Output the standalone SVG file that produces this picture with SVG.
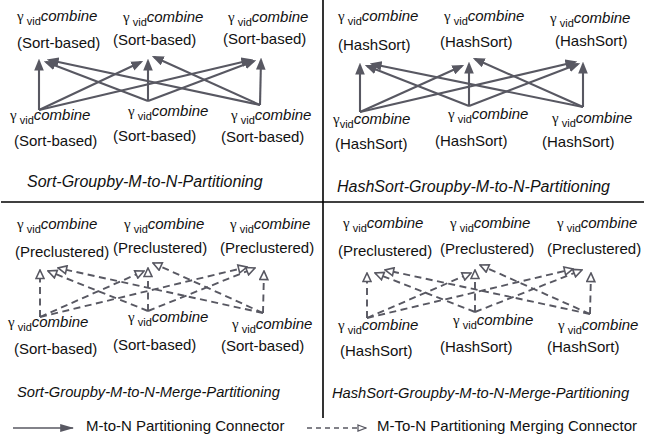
<svg xmlns="http://www.w3.org/2000/svg" width="657" height="437" viewBox="0 0 657 437">
<style>
text{font-family:"Liberation Sans",Arial,sans-serif;font-size:15px;fill:#111}
.g{font-family:"Liberation Serif","Times New Roman",serif;font-size:15px}
.s{font-size:11px}
.c{font-style:italic}
.t{font-style:italic;font-size:16px}
.t2{font-style:italic;font-size:14.7px}
.sol{stroke:#585862;stroke-width:2.1;fill:none;marker-end:url(#ah)}
.dsh{stroke:#585862;stroke-width:1.9;fill:none;stroke-dasharray:7 4.5;marker-end:url(#oh)}
.div{stroke:#000;stroke-width:1.6;fill:none}
</style>
<defs>
<marker id="ah" markerUnits="userSpaceOnUse" markerWidth="12" markerHeight="10" viewBox="0 0 10 8" refX="8" refY="4" orient="auto">
<path d="M0,0 L10,4 L0,8 z" fill="#585862"/>
</marker>
<marker id="oh" markerUnits="userSpaceOnUse" markerWidth="11" markerHeight="10" viewBox="0 0 11 10" refX="10" refY="5" orient="auto">
<path d="M1.5,1 L10,5 L1.5,9 z" fill="#fff" stroke="#585862" stroke-width="1.6"/>
</marker>
<marker id="ohl" markerUnits="userSpaceOnUse" markerWidth="10" markerHeight="8" viewBox="0 0 10 8" refX="9" refY="4" orient="auto">
<path d="M1,1 L9,4 L1,7 z" fill="#fff" stroke="#585862" stroke-width="1.3"/>
</marker>
<marker id="ahl" markerUnits="userSpaceOnUse" markerWidth="14" markerHeight="10" viewBox="0 0 12 8" refX="11" refY="4" orient="auto">
<path d="M0,0.5 L12,4 L0,7.5 z" fill="#585862"/>
</marker>
</defs>

<g id="dividers">
<line class="div" x1="323" y1="0" x2="323" y2="418"/>
<line class="div" x1="1" y1="202" x2="644" y2="202"/>
</g>

<g id="connectors">
<!-- top-left -->
<line class="sol" x1="39" y1="110" x2="39" y2="61"/>
<line class="sol" x1="39" y1="110" x2="141" y2="62"/>
<line class="sol" x1="39" y1="110" x2="251" y2="60"/>
<line class="sol" x1="148" y1="101" x2="148" y2="61"/>
<line class="sol" x1="148" y1="101" x2="46" y2="62"/>
<line class="sol" x1="148" y1="101" x2="254" y2="61"/>
<line class="sol" x1="260" y1="105" x2="261" y2="60"/>
<line class="sol" x1="260" y1="105" x2="49" y2="60"/>
<line class="sol" x1="260" y1="105" x2="154" y2="57"/>
<!-- top-right -->
<line class="sol" x1="360" y1="112" x2="360" y2="65"/>
<line class="sol" x1="360" y1="112" x2="462" y2="66"/>
<line class="sol" x1="360" y1="112" x2="575" y2="62"/>
<line class="sol" x1="469" y1="106" x2="469" y2="64"/>
<line class="sol" x1="469" y1="106" x2="367" y2="66"/>
<line class="sol" x1="469" y1="106" x2="578" y2="64"/>
<line class="sol" x1="583" y1="107" x2="583" y2="64"/>
<line class="sol" x1="583" y1="107" x2="372" y2="64"/>
<line class="sol" x1="583" y1="107" x2="475" y2="59"/>
<!-- bottom-left -->
<line class="dsh" x1="40" y1="317" x2="40" y2="270"/>
<line class="dsh" x1="40" y1="317" x2="144" y2="271"/>
<line class="dsh" x1="40" y1="317" x2="247" y2="267"/>
<line class="dsh" x1="148" y1="311" x2="148" y2="268"/>
<line class="dsh" x1="148" y1="311" x2="48" y2="271"/>
<line class="dsh" x1="148" y1="311" x2="255" y2="268"/>
<line class="dsh" x1="263" y1="313" x2="264" y2="271"/>
<line class="dsh" x1="263" y1="313" x2="58" y2="268"/>
<line class="dsh" x1="263" y1="313" x2="153" y2="263"/>
<!-- bottom-right -->
<line class="dsh" x1="367" y1="318" x2="367" y2="273"/>
<line class="dsh" x1="367" y1="318" x2="471" y2="273"/>
<line class="dsh" x1="367" y1="318" x2="573" y2="269"/>
<line class="dsh" x1="475" y1="312" x2="475" y2="270"/>
<line class="dsh" x1="475" y1="312" x2="375" y2="273"/>
<line class="dsh" x1="475" y1="312" x2="582" y2="270"/>
<line class="dsh" x1="590" y1="314" x2="591" y2="273"/>
<line class="dsh" x1="590" y1="314" x2="385" y2="270"/>
<line class="dsh" x1="590" y1="314" x2="480" y2="265"/>
</g>

<g id="tl-n1"><text x="17" y="21"><tspan class="g">γ</tspan><tspan class="s" dy="4"> vid</tspan><tspan class="c" dy="-4">combine</tspan></text><text x="17" y="48">(Sort-based)</text></g>
<g id="tl-n2"><text x="123" y="22"><tspan class="g">γ</tspan><tspan class="s" dy="4"> vid</tspan><tspan class="c" dy="-4">combine</tspan></text><text x="113" y="45">(Sort-based)</text></g>
<g id="tl-n3"><text x="228" y="22"><tspan class="g">γ</tspan><tspan class="s" dy="4"> vid</tspan><tspan class="c" dy="-4">combine</tspan></text><text x="223" y="44">(Sort-based)</text></g>
<g id="tl-n4"><text x="10" y="120"><tspan class="g">γ</tspan><tspan class="s" dy="4"> vid</tspan><tspan class="c" dy="-4">combine</tspan></text><text x="14" y="146">(Sort-based)</text></g>
<g id="tl-n5"><text x="128" y="116"><tspan class="g">γ</tspan><tspan class="s" dy="4"> vid</tspan><tspan class="c" dy="-4">combine</tspan></text><text x="113" y="141">(Sort-based)</text></g>
<g id="tl-n6"><text x="231" y="120"><tspan class="g">γ</tspan><tspan class="s" dy="4"> vid</tspan><tspan class="c" dy="-4">combine</tspan></text><text x="221" y="142">(Sort-based)</text></g>
<text class="t" x="27" y="187">Sort-Groupby-M-to-N-Partitioning</text>

<g id="tr-n1"><text x="338" y="21"><tspan class="g">γ</tspan><tspan class="s" dy="4"> vid</tspan><tspan class="c" dy="-4">combine</tspan></text><text x="338" y="50">(HashSort)</text></g>
<g id="tr-n2"><text x="444" y="21"><tspan class="g">γ</tspan><tspan class="s" dy="4"> vid</tspan><tspan class="c" dy="-4">combine</tspan></text><text x="440" y="47">(HashSort)</text></g>
<g id="tr-n3"><text x="550" y="23"><tspan class="g">γ</tspan><tspan class="s" dy="4"> vid</tspan><tspan class="c" dy="-4">combine</tspan></text><text x="555" y="46">(HashSort)</text></g>
<g id="tr-n4"><text x="333" y="124"><tspan class="g">γ</tspan><tspan class="s" dy="4">vid</tspan><tspan class="c" dy="-4">combine</tspan></text><text x="335" y="149">(HashSort)</text></g>
<g id="tr-n5"><text x="448" y="119"><tspan class="g">γ</tspan><tspan class="s" dy="4"> vid</tspan><tspan class="c" dy="-4">combine</tspan></text><text x="435" y="146">(HashSort)</text></g>
<g id="tr-n6"><text x="552" y="123"><tspan class="g">γ</tspan><tspan class="s" dy="4"> vid</tspan><tspan class="c" dy="-4">combine</tspan></text><text x="542" y="147">(HashSort)</text></g>
<text class="t" x="337" y="192">HashSort-Groupby-M-to-N-Partitioning</text>

<g id="bl-n1"><text x="17" y="229"><tspan class="g">γ</tspan><tspan class="s" dy="4"> vid</tspan><tspan class="c" dy="-4">combine</tspan></text><text x="15" y="257">(Preclustered)</text></g>
<g id="bl-n2"><text x="124" y="229"><tspan class="g">γ</tspan><tspan class="s" dy="4"> vid</tspan><tspan class="c" dy="-4">combine</tspan></text><text x="113" y="253">(Preclustered)</text></g>
<g id="bl-n3"><text x="230" y="229"><tspan class="g">γ</tspan><tspan class="s" dy="4"> vid</tspan><tspan class="c" dy="-4">combine</tspan></text><text x="220" y="253">(Preclustered)</text></g>
<g id="bl-n4"><text x="8" y="327"><tspan class="g">γ</tspan><tspan class="s" dy="4"> vid</tspan><tspan class="c" dy="-4">combine</tspan></text><text x="14" y="354">(Sort-based)</text></g>
<g id="bl-n5"><text x="128" y="322"><tspan class="g">γ</tspan><tspan class="s" dy="4"> vid</tspan><tspan class="c" dy="-4">combine</tspan></text><text x="113" y="350">(Sort-based)</text></g>
<g id="bl-n6"><text x="232" y="329"><tspan class="g">γ</tspan><tspan class="s" dy="4"> vid</tspan><tspan class="c" dy="-4">combine</tspan></text><text x="221" y="351">(Sort-based)</text></g>
<text class="t2" x="17" y="397">Sort-Groupby-M-to-N-Merge-Partitioning</text>

<g id="br-n1"><text x="343" y="228"><tspan class="g">γ</tspan><tspan class="s" dy="4"> vid</tspan><tspan class="c" dy="-4">combine</tspan></text><text x="338" y="256">(Preclustered)</text></g>
<g id="br-n2"><text x="450" y="228"><tspan class="g">γ</tspan><tspan class="s" dy="4"> vid</tspan><tspan class="c" dy="-4">combine</tspan></text><text x="440" y="254">(Preclustered)</text></g>
<g id="br-n3"><text x="557" y="228"><tspan class="g">γ</tspan><tspan class="s" dy="4"> vid</tspan><tspan class="c" dy="-4">combine</tspan></text><text x="547" y="254">(Preclustered)</text></g>
<g id="br-n4"><text x="338" y="330"><tspan class="g">γ</tspan><tspan class="s" dy="4"> vid</tspan><tspan class="c" dy="-4">combine</tspan></text><text x="340" y="356">(HashSort)</text></g>
<g id="br-n5"><text x="453" y="325"><tspan class="g">γ</tspan><tspan class="s" dy="4"> vid</tspan><tspan class="c" dy="-4">combine</tspan></text><text x="440" y="352">(HashSort)</text></g>
<g id="br-n6"><text x="558" y="330"><tspan class="g">γ</tspan><tspan class="s" dy="4"> vid</tspan><tspan class="c" dy="-4">combine</tspan></text><text x="547" y="352">(HashSort)</text></g>
<text class="t2" x="332" y="398">HashSort-Groupby-M-to-N-Merge-Partitioning</text>

<g id="legend">
<line x1="13" y1="428" x2="73" y2="428" stroke="#585862" stroke-width="1.6" marker-end="url(#ahl)"/>
<text x="86" y="431">M-to-N Partitioning Connector</text>
<line x1="307" y1="428" x2="366" y2="428" stroke="#585862" stroke-width="1.4" stroke-dasharray="5 4" marker-end="url(#ohl)"/>
<text x="377" y="431">M-To-N Partitioning Merging Connector</text>
</g>
</svg>
